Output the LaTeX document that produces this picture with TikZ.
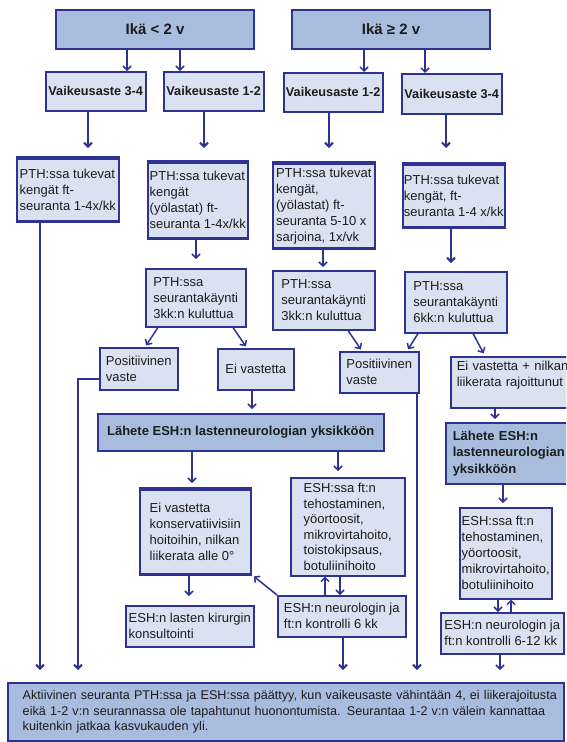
\documentclass[tikz,border=0pt]{standalone}
\usepackage{fontspec}
\setmainfont{Liberation Sans}
\usetikzlibrary{arrows.meta,calc}
\definecolor{bord}{RGB}{46,50,146}
\definecolor{lightf}{RGB}{218,226,241}
\definecolor{darkf}{RGB}{168,189,221}
\definecolor{txt}{RGB}{28,28,28}
\begin{document}
\begin{tikzpicture}[x=1pt,y=-1pt,
  box/.style={draw=bord, line width=1.5pt, fill=lightf, text=txt, anchor=north west,
    inner xsep=1pt, inner ysep=0pt, align=left, font=\fontsize{13}{16}\selectfont},
  dbox/.style={box, fill=darkf, font=\bfseries\fontsize{13}{16.5}\selectfont},
  ikabox/.style={box, fill=darkf, line width=2pt, align=center, font=\bfseries\fontsize{15}{18}\selectfont},
  vabox/.style={box, align=center, font=\bfseries\fontsize{12.7}{15}\selectfont},
  arr/.style={draw=bord, line width=1.5pt, -{Straight Barb[length=4pt,width=8pt]}},
  vline/.style={arr, line width=2pt},
  tb/.style={draw=bord, line width=3.5pt}]
\useasboundingbox (0,0) rectangle (566,742);
\clip (0,0) rectangle (566,742);
% top
\node[ikabox, minimum width=198pt, minimum height=39pt] (ikaA) at (55,9) {Ikä < 2 v};
\node[ikabox, minimum width=198pt, minimum height=39pt] (ikaB) at (291,9) {Ikä ≥ 2 v};
\node[vabox, minimum width=100pt, minimum height=39pt] (va34L) at (45,71) {Vaikeusaste 3-4};
\node[vabox, minimum width=100pt, minimum height=39pt] (va12L) at (163,71) {Vaikeusaste 1-2};
\node[vabox, minimum width=99pt, minimum height=39pt] (va12R) at (283,72) {Vaikeusaste 1-2};
\node[vabox, minimum width=100pt, minimum height=40pt] (va34R) at (401,73) {Vaikeusaste 3-4};
% level 3
\node[box, minimum width=102pt, minimum height=62pt] (l1) at (16,158) {PTH:ssa tukevat\\kengät ft-\\seuranta 1-4x/kk};
\node[box, minimum width=100pt, minimum height=75pt] (l2) at (147,162) {PTH:ssa tukevat\\kengät\\(yölastat) ft-\\seuranta 1-4x/kk};
\node[box, minimum width=102pt, minimum height=84pt] (r1) at (272,163) {PTH:ssa tukevat\\kengät,\\(yölastat) ft-\\seuranta 5-10 x\\sarjoina, 1x/vk};
\node[box, minimum width=102pt, minimum height=62pt] (r2) at (402,164) {PTH:ssa tukevat\\kengät, ft-\\seuranta 1-4 x/kk};
% level 4
\node[box, minimum width=100pt, minimum height=58pt] (l2b) at (145,268) {PTH:ssa\\seurantakäynti\\3kk:n kuluttua};
\node[box, minimum width=102pt, minimum height=59pt] (r1b) at (272,270) {PTH:ssa\\seurantakäynti\\3kk:n kuluttua};
\node[box, minimum width=102pt, minimum height=61pt] (r2b) at (404,271) {PTH:ssa\\seurantakäynti\\6kk:n kuluttua};
% level 5
\node[box, minimum width=78pt, minimum height=42pt] (posL) at (99,347) {Positiivinen\\vaste};
\node[box, minimum width=76pt, minimum height=41pt, align=center] (eiL) at (217,348) {Ei vastetta};
\node[box, minimum width=79pt, minimum height=41pt] (posR) at (339,351) {Positiivinen\\vaste};
\node[box, inner xsep=6pt, text width=140pt, minimum height=51pt] (eiR) at (450,356) {Ei vastetta + nilkan\\liikerata rajoittunut\\ \mbox{}};
% level 6
\node[dbox, minimum width=286pt, minimum height=37pt, align=center] (lah) at (97,413) {Lähete ESH:n lastenneurologian yksikköön};
\node[dbox, inner xsep=7pt, text width=141pt, minimum height=61pt] (lahR) at (445,422) {Lähete ESH:n\\lastenneurologian\\yksikköön};
% level 7
\node[box, minimum width=111pt, minimum height=84pt] (eiK) at (139,489) {Ei vastetta\\konservatiivisiin\\hoitoihin, nilkan\\liikerata alle 0°};
\node[box, minimum width=128pt, minimum height=41pt] (kir) at (125,605) {ESH:n lasten kirurgin\\konsultointi};
\node[box, minimum width=114pt, minimum height=98pt, font=\fontsize{13}{15.5}\selectfont] (tehL) at (290,477) {ESH:ssa ft:n\\tehostaminen,\\yöortoosit,\\mikrovirtahoito,\\toistokipsaus,\\botuliinihoito};
\node[box, minimum width=128pt, minimum height=41pt] (konL) at (277,595) {ESH:n neurologin ja\\ft:n kontrolli 6 kk};
\node[box, minimum width=92pt, minimum height=91pt] (tehR) at (459,507) {ESH:ssa ft:n\\tehostaminen,\\yöortoosit,\\mikrovirtahoito,\\botuliinihoito};
\node[box, minimum width=123pt, minimum height=41pt] (konR) at (440,612) {ESH:n neurologin ja\\ft:n kontrolli 6-12 kk};
% bottom
\node[box, fill=darkf, inner xsep=15pt, text width=526pt, minimum height=58pt, font=\fontsize{12.6}{15.3}\selectfont] (akt) at (7,682)
 {\mbox{Aktiivinen seuranta PTH:ssa ja ESH:ssa päättyy, kun vaikeusaste vähintään 4, ei liikerajoitusta}\\
  \mbox{eikä 1-2 v:n seurannassa ole tapahtunut huonontumista. Seurantaa 1-2 v:n välein kannattaa}\\
  \mbox{kuitenkin jatkaa kasvukauden yli.}};
% thick top/bottom edges
\foreach \n in {l1,l2,r1,r2,eiK}{
  \draw[tb] (\n.north west) -- (\n.north east);
  \draw[tb] (\n.south west) -- (\n.south east);
}
% connectors
\draw[arr] (ikaA.south -| 127,0) -- (va34L.north -| 127,0);
\draw[arr] (ikaA.south -| 180,0) -- (va12L.north -| 180,0);
\draw[arr] (ikaB.south -| 364,0) -- (va12R.north -| 364,0);
\draw[arr] (ikaB.south -| 425,0) -- (va34R.north -| 425,0);
\draw[vline, shorten >=10pt] (va34L.south -| 88,0) -- (l1.north -| 88,0);
\draw[vline, shorten >=14pt] (va12L.south -| 204,0) -- (l2.north -| 204,0);
\draw[vline, shorten >=15pt] (va12R.south -| 329,0) -- (r1.north -| 329,0);
\draw[vline, shorten >=16pt] (va34R.south -| 446,0) -- (r2.north -| 446,0);
\draw[arr, shorten >=9pt] (l2.south -| 196,0) -- (l2b.north -| 196,0);
\draw[arr, shorten >=3pt] (r1.south -| 323,0) -- (r1b.north -| 323,0);
\draw[vline, shorten >=8pt] (r2.south -| 451,0) -- (r2b.north -| 451,0);
\draw[arr, shorten >=2pt] (l2b.south -| 158,0) -- (posL.north -| 145,0);
\draw[arr, shorten >=2pt] (l2b.south -| 233,0) -- (eiL.north -| 247,0);
\draw[arr, shorten >=2pt] (r1b.south -| 348,0) -- (posR.north -| 362,0);
\draw[arr, shorten >=2pt] (r2b.south -| 418,0) -- (posR.north -| 407,0);
\draw[arr, shorten >=3pt] (r2b.south -| 473,0) -- (eiR.north -| 485,0);
\draw[arr, shorten >=4pt] (eiL.south -| 252,0) -- (lah.north -| 252,0);
\draw[arr, shorten >=3pt] (eiR.south -| 495,0) -- (lahR.north -| 495,0);
\draw[arr, shorten >=6pt] (lah.south -| 192,0) -- (eiK.north -| 192,0);
\draw[arr, shorten >=6pt] (lah.south -| 338,0) -- (tehL.north -| 338,0);
\draw[arr, shorten >=4pt] (lahR.south -| 503,0) -- (tehR.north -| 503,0);
\draw[arr, shorten >=9pt] (eiK.south -| 189,0) -- (kir.north -| 189,0);
\draw[arr] (konL.north -| 325,0) -- (tehL.south -| 325,0);
\draw[arr] (tehL.south -| 340,0) -- (konL.north -| 340,0);
\draw[arr, shorten >=3pt] (konL.north west) -- (eiK.south east);
\draw[arr] (tehR.south -| 498,0) -- (konR.north -| 498,0);
\draw[arr] (konR.north -| 511,0) -- (tehR.south -| 511,0);
\draw[vline, shorten >=12pt] (l1.south -| 40,0) -- (akt.north -| 40,0);
\draw[vline, shorten >=12pt] ([yshift=-10pt]posL.west) -| (akt.north -| 78,0);
\draw[vline, shorten >=12pt] (konL.south -| 343,0) -- (akt.north -| 343,0);
\draw[vline, shorten >=12pt] (posR.south -| 417,0) -- (akt.north -| 417,0);
\draw[arr, shorten >=12pt] (konR.south -| 500,0) -- (akt.north -| 500,0);
\end{tikzpicture}
\end{document}
